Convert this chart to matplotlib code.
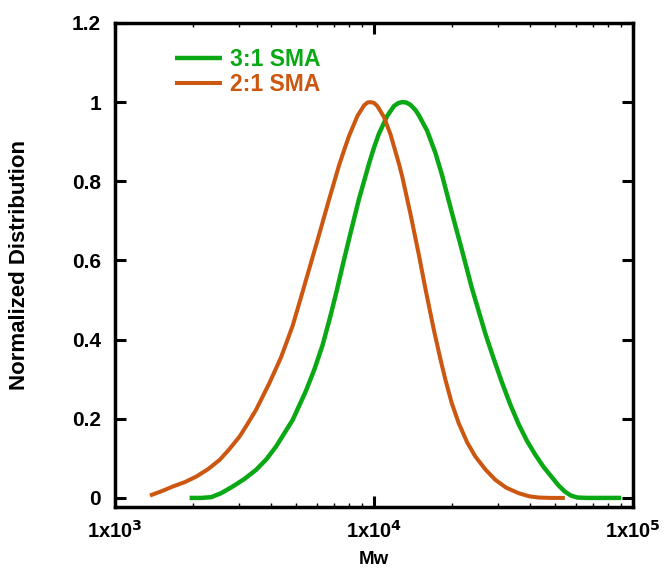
import matplotlib
matplotlib.use("Agg")
import matplotlib.pyplot as plt
from matplotlib.ticker import LogLocator, FixedLocator, NullFormatter

plt.rcParams['font.family'] = ['Liberation Sans', 'DejaVu Sans']
plt.rcParams['font.weight'] = 'bold'
plt.rcParams['mathtext.default'] = 'bf'

# Data (log10 Mw, normalized distribution)
logmw_21 = [3.135, 3.180, 3.224, 3.270, 3.314, 3.360, 3.404, 3.440, 3.481, 3.510,
            3.545, 3.596, 3.641, 3.686, 3.724, 3.788, 3.827, 3.865, 3.888, 3.904,
            3.936, 3.962, 3.975, 3.987, 4.000, 4.013, 4.038, 4.064, 4.096, 4.109,
            4.140, 4.173, 4.199, 4.231, 4.256, 4.276, 4.300, 4.327, 4.360, 4.391,
            4.430, 4.468, 4.510, 4.558, 4.600, 4.635, 4.680, 4.737]
dist_21 = [0.006, 0.017, 0.029, 0.040, 0.054, 0.073, 0.096, 0.122, 0.155, 0.185,
           0.223, 0.290, 0.355, 0.435, 0.520, 0.665, 0.755, 0.840, 0.885, 0.915,
           0.965, 0.992, 0.999, 1.000, 0.998, 0.990, 0.963, 0.918, 0.845, 0.812,
           0.720, 0.615, 0.527, 0.425, 0.352, 0.298, 0.240, 0.189, 0.140, 0.105,
           0.072, 0.046, 0.026, 0.012, 0.004, 0.001, 0.000, 0.000]

logmw_31 = [3.288, 3.335, 3.372, 3.410, 3.455, 3.500, 3.545, 3.585, 3.622, 3.686,
            3.737, 3.770, 3.801, 3.830, 3.853, 3.880, 3.904, 3.942, 3.981, 4.000,
            4.019, 4.051, 4.077, 4.095, 4.109, 4.125, 4.141, 4.160, 4.173, 4.205,
            4.237, 4.263, 4.301, 4.340, 4.378, 4.430, 4.462, 4.494, 4.525, 4.558,
            4.590, 4.622, 4.655, 4.686, 4.712, 4.737, 4.760, 4.785, 4.820, 4.955]
dist_31 = [0.000, 0.000, 0.002, 0.012, 0.029, 0.048, 0.071, 0.098, 0.130, 0.197,
           0.270, 0.325, 0.385, 0.455, 0.515, 0.590, 0.655, 0.755, 0.845, 0.885,
           0.920, 0.965, 0.990, 0.998, 1.000, 0.999, 0.993, 0.980, 0.967, 0.928,
           0.872, 0.815, 0.720, 0.625, 0.530, 0.415, 0.352, 0.292, 0.238, 0.187,
           0.145, 0.110, 0.078, 0.053, 0.032, 0.016, 0.006, 0.001, 0.000, 0.000]

mw_21 = [10 ** v for v in logmw_21]
mw_31 = [10 ** v for v in logmw_31]

xtick_vals = [1e3, 1e4, 1e5]
xtick_labels = [r'1x10$^{3}$', r'1x10$^{4}$', r'1x10$^{5}$']
ytick_vals = [0, 0.2, 0.4, 0.6, 0.8, 1.0, 1.2]
ytick_labels = ['0', '0.2', '0.4', '0.6', '0.8', '1', '1.2']

green = '#0aa814'
orange = '#cc5710'

fig = plt.figure(figsize=(6.67, 5.74), dpi=100)
ax = fig.add_axes([0.1724, 0.1167, 0.7766, 0.8433])

l1, = ax.plot(mw_31, dist_31, color=green, lw=3.2, label='3:1 SMA',
              solid_joinstyle='round', solid_capstyle='butt')
l2, = ax.plot(mw_21, dist_21, color=orange, lw=2.9, label='2:1 SMA',
              solid_joinstyle='round', solid_capstyle='butt')

ax.set_xscale('log')
ax.set_xlim(1e3, 1e5)
ax.set_ylim(-0.023, 1.2)

ax.xaxis.set_major_locator(FixedLocator(xtick_vals))
ax.set_xticklabels(xtick_labels)
ax.xaxis.set_minor_locator(LogLocator(base=10, subs=range(2, 10)))
ax.xaxis.set_minor_formatter(NullFormatter())

ax.set_yticks(ytick_vals)
ax.set_yticklabels(ytick_labels)

ax.tick_params(axis='both', which='major', direction='in', length=8, width=2.2,
               top=True, right=True)
ax.tick_params(axis='y', which='major', labelsize=15, pad=10)
ax.tick_params(axis='x', which='major', labelsize=14.5, pad=9)
ax.tick_params(axis='x', which='minor', direction='in', length=3, width=1.0,
               top=True, bottom=True)
for s in ax.spines.values():
    s.set_linewidth(2.5)

ax.set_xlabel('Mw', fontsize=13.5, fontweight='bold')
ax.xaxis.set_label_coords(0.5, -0.09)
ax.set_ylabel('Normalized Distribution', fontsize=16, fontweight='bold')
ax.yaxis.set_label_coords(-0.164, 0.5)

leg = ax.legend(handles=[l1, l2], loc='upper left', bbox_to_anchor=(0.116, 0.948),
                frameon=False, fontsize=16.5, handlelength=2.05, handletextpad=0.35,
                labelspacing=0.1, borderaxespad=0.0, borderpad=0.0)
for t, c in zip(leg.get_texts(), [green, orange]):
    t.set_color(c)
    t.set_fontweight('bold')

fig.savefig('out.png', dpi=100)
